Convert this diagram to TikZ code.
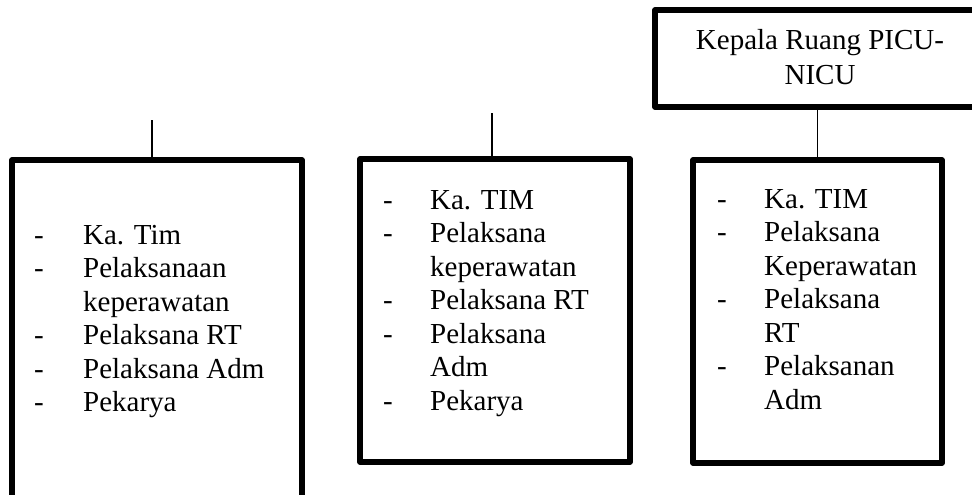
\documentclass[tikz,border=0pt]{standalone}
\usepackage{fontspec}
\setmainfont{Liberation Serif}
\begin{document}
\begin{tikzpicture}[x=1pt,y=-1pt,
  box/.style={draw, line width=5.2pt, line join=round, inner sep=0pt},
  link/.style={line width=1.9pt},
  txt/.style={inner sep=0pt, anchor=base west, font=\fontsize{29}{33.5}\selectfont},
  head/.style={inner sep=0pt, anchor=base, font=\fontsize{29}{35}\selectfont}]
\useasboundingbox (0,0) rectangle (972,495);
\clip (0,0) rectangle (972,495);
% boxes
\node[box, minimum width=345pt, minimum height=97pt] (top) at (827.5,58.5) {};
\node[box, minimum width=290pt, minimum height=360pt] (b1) at (157,340) {};
\node[box, minimum width=270pt, minimum height=303pt] (b2) at (495,310.5) {};
\node[box, minimum width=249pt, minimum height=303pt] (b3) at (817.5,311.5) {};
% connectors
\coordinate (c1) at (152,120);
\coordinate (c2) at (492,113);
\draw[link] (c1) -- (c1 |- b1.north);
\draw[link] (c2) -- (c2 |- b2.north);
\draw[link] (top.south -| b3.north) -- (b3.north);
% texts
\node[head] (th) at (820,50) {\begin{tabular}[t]{@{}c@{}}Kepala Ruang PICU-\\NICU\end{tabular}};
\node[txt] (t1) at (34,244) {\begin{tabular}[t]{@{}p{49pt}@{}l@{}}
- & Ka. Tim\\
- & Pelaksanaan\\
  & keperawatan\\
- & Pelaksana RT\\
- & Pelaksana Adm\\
- & Pekarya
\end{tabular}};
\node[txt] (t2) at (383,209) {\begin{tabular}[t]{@{}p{47pt}@{}l@{}}
- & Ka. TIM\\
- & Pelaksana\\
  & keperawatan\\
- & Pelaksana RT\\
- & Pelaksana\\
  & Adm\\
- & Pekarya
\end{tabular}};
\node[txt] (t3) at (717,208) {\begin{tabular}[t]{@{}p{47pt}@{}l@{}}
- & Ka. TIM\\
- & Pelaksana\\
  & Keperawatan\\
- & Pelaksana\\
  & RT\\
- & Pelaksanan\\
  & Adm
\end{tabular}};
\end{tikzpicture}
\end{document}
